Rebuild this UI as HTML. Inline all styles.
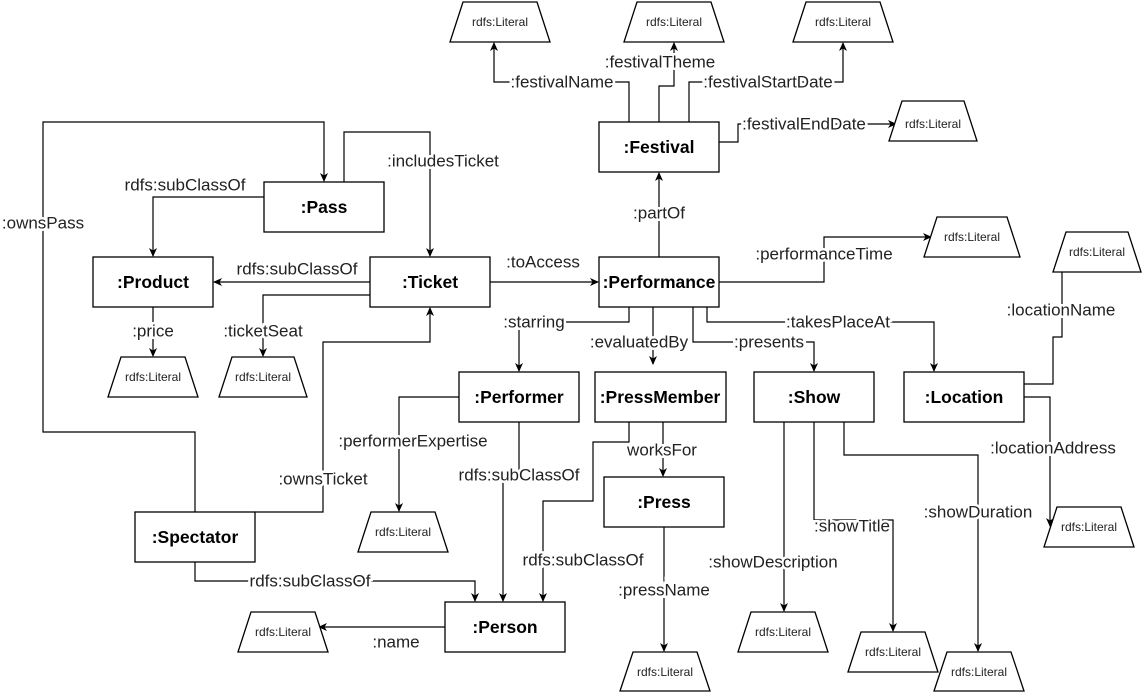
<!DOCTYPE html>
<html><head><meta charset="utf-8"><style>
html,body{margin:0;padding:0;background:#fff}
svg{display:block}
.b{fill:#fff;stroke:#000;stroke-width:1.3}
.l{fill:none;stroke:#000;stroke-width:1.2}
.t{font-family:"Liberation Sans",Arial,sans-serif;font-weight:bold;font-size:17.5px;text-anchor:middle;dominant-baseline:central;fill:#000}
.e{font-family:"Liberation Sans",Arial,sans-serif;font-size:17px;text-anchor:middle;dominant-baseline:central;fill:#222;stroke:#fff;stroke-width:5;paint-order:stroke}
.r{font-family:"Liberation Sans",Arial,sans-serif;font-size:12px;text-anchor:middle;dominant-baseline:central;fill:#222}
</style></head><body>
<svg width="1144" height="692" viewBox="0 0 1144 692" xmlns="http://www.w3.org/2000/svg">
<defs><marker id="a" markerWidth="10" markerHeight="10" refX="8" refY="4" orient="auto" markerUnits="userSpaceOnUse"><path d="M0,0 L9,4 L0,8 L2.5,4 Z" fill="#000"/></marker></defs>

<g class="l">
<path d="M629,122V82H494V43" marker-end="url(#a)"/>
<path d="M659,122V86H674V43" marker-end="url(#a)"/>
<path d="M689,122V82H843V43" marker-end="url(#a)"/>
<path d="M719,142H738V124H896" marker-end="url(#a)"/>
<path d="M195,512V432H43V122H324V181" marker-end="url(#a)"/>
<path d="M344,182V132H430V256" marker-end="url(#a)"/>
<path d="M264,197H153V256" marker-end="url(#a)"/>
<path d="M370,282H214" marker-end="url(#a)"/>
<path d="M370,295H263V356" marker-end="url(#a)"/>
<path d="M490,282H598" marker-end="url(#a)"/>
<path d="M255,512H323V342H430V308" marker-end="url(#a)"/>
<path d="M153,307V356" marker-end="url(#a)"/>
<path d="M659,257V173" marker-end="url(#a)"/>
<path d="M719,282H824V237H931" marker-end="url(#a)"/>
<path d="M629,307V322H519V371" marker-end="url(#a)"/>
<path d="M653,307V364" marker-end="url(#a)"/>
<path d="M693,307V342H814V371" marker-end="url(#a)"/>
<path d="M707,307V322H934V371" marker-end="url(#a)"/>
<path d="M663,422V476" marker-end="url(#a)"/>
<path d="M629,422V442H593V501H543V601" marker-end="url(#a)"/>
<path d="M459,397H399V511" marker-end="url(#a)"/>
<path d="M519,422V475H503V601" marker-end="url(#a)"/>
<path d="M195,562V581H475V601" marker-end="url(#a)"/>
<path d="M445,627H319" marker-end="url(#a)"/>
<path d="M664,527V651" marker-end="url(#a)"/>
<path d="M784,422V611" marker-end="url(#a)"/>
<path d="M814,422V520H893V631" marker-end="url(#a)"/>
<path d="M844,422V455H978V651" marker-end="url(#a)"/>
<path d="M1024,384H1053V337H1062V272"/>
<path d="M1024,397H1050V526" marker-end="url(#a)"/>
</g>

<g class="b">
<path d="M463,2H537L550,42H450Z"/>
<path d="M637,2H711L724,42H624Z"/>
<path d="M806,2H880L893,42H793Z"/>
<path d="M902,101H964L977,141H889Z"/>
<path d="M937,217H1007L1020,257H924Z"/>
<path d="M1066,232H1128L1141,272H1053Z"/>
<path d="M121,357H185L198,397H108Z"/>
<path d="M232,357H294L307,397H219Z"/>
<path d="M371,512H435L448,552H358Z"/>
<path d="M1057,507H1121L1134,547H1044Z"/>
<path d="M251,612H315L328,652H238Z"/>
<path d="M751,612H815L828,652H738Z"/>
<path d="M861,632H925L938,672H848Z"/>
<path d="M633,652H697L710,691H620Z"/>
<path d="M947,652H1011L1024,691H934Z"/>
</g>
<g class="r">
<text x="500" y="22">rdfs:Literal</text>
<text x="674" y="22">rdfs:Literal</text>
<text x="843" y="22">rdfs:Literal</text>
<text x="933" y="124">rdfs:Literal</text>
<text x="972" y="237">rdfs:Literal</text>
<text x="1097" y="252">rdfs:Literal</text>
<text x="153" y="377">rdfs:Literal</text>
<text x="263" y="377">rdfs:Literal</text>
<text x="403" y="532">rdfs:Literal</text>
<text x="1089" y="527">rdfs:Literal</text>
<text x="283" y="632">rdfs:Literal</text>
<text x="783" y="632">rdfs:Literal</text>
<text x="893" y="652">rdfs:Literal</text>
<text x="665" y="672">rdfs:Literal</text>
<text x="979" y="672">rdfs:Literal</text>
</g>

<g class="b">
<rect x="599" y="122" width="120" height="50"/>
<rect x="264" y="182" width="120" height="50"/>
<rect x="93" y="257" width="120" height="50"/>
<rect x="370" y="257" width="120" height="50"/>
<rect x="599" y="257" width="120" height="50"/>
<rect x="459" y="372" width="120" height="50"/>
<rect x="595" y="372" width="131" height="50"/>
<rect x="754" y="372" width="120" height="50"/>
<rect x="904" y="372" width="120" height="50"/>
<rect x="604" y="477" width="120" height="50"/>
<rect x="135" y="512" width="120" height="50"/>
<rect x="445" y="602" width="120" height="50"/>
</g>
<g class="t">
<text x="659" y="147">:Festival</text>
<text x="324" y="207">:Pass</text>
<text x="153" y="282">:Product</text>
<text x="430" y="282">:Ticket</text>
<text x="659" y="282">:Performance</text>
<text x="519" y="397">:Performer</text>
<text x="660" y="397">:PressMember</text>
<text x="814" y="397">:Show</text>
<text x="964" y="397">:Location</text>
<text x="664" y="502">:Press</text>
<text x="195" y="537">:Spectator</text>
<text x="505" y="627">:Person</text>
</g>

<g class="e">
<text x="562" y="82">:festivalName</text>
<text x="660" y="62">:festivalTheme</text>
<text x="768" y="82">:festivalStartDate</text>
<text x="804" y="124">:festivalEndDate</text>
<text x="43" y="223">:ownsPass</text>
<text x="443" y="161">:includesTicket</text>
<text x="185" y="185">rdfs:subClassOf</text>
<text x="297" y="269">rdfs:subClassOf</text>
<text x="263" y="331">:ticketSeat</text>
<text x="153" y="331">:price</text>
<text x="543" y="262">:toAccess</text>
<text x="323" y="479">:ownsTicket</text>
<text x="659" y="213">:partOf</text>
<text x="824" y="254">:performanceTime</text>
<text x="534" y="322">:starring</text>
<text x="639" y="342">:evaluatedBy</text>
<text x="769" y="342">:presents</text>
<text x="838" y="322">:takesPlaceAt</text>
<text x="662" y="450">worksFor</text>
<text x="583" y="560">rdfs:subClassOf</text>
<text x="413" y="441">:performerExpertise</text>
<text x="519" y="475">rdfs:subClassOf</text>
<text x="310" y="581">rdfs:subClassOf</text>
<text x="396" y="642">:name</text>
<text x="664" y="590">:pressName</text>
<text x="773" y="562">:showDescription</text>
<text x="852" y="526">:showTitle</text>
<text x="978" y="512">:showDuration</text>
<text x="1061" y="310">:locationName</text>
<text x="1053" y="448">:locationAddress</text>
</g>
</svg>
</body></html>
